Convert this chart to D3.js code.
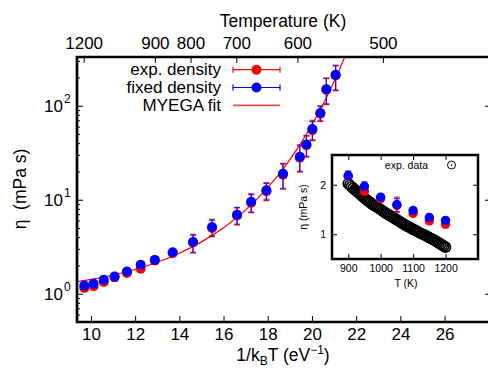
<!DOCTYPE html>
<html><head><meta charset="utf-8">
<script src="https://cdn.jsdelivr.net/npm/d3@7"></script>
<style>
body{margin:0;background:#fff}
svg{display:block}
text{font-family:"Liberation Sans",Arial,Helvetica,sans-serif;fill:#000}
</style></head>
<body><svg id="c" width="488" height="371"></svg>
<script>
// ---------- main data (x = 1/kBT in eV^-1, eta in mPa s) ----------
const invKT      = [9.70,10.12,10.58,11.07,11.63,12.25,12.89,13.70,14.62,15.48,16.61,17.25,17.94,18.69,19.45,19.75,20.02,20.38,20.65,21.07];
const etaFixed   = [1.22,1.28,1.41,1.52,1.72,2.03,2.29,2.76,3.55,5.13,6.9,9.5,12.6,18.9,28.7,38.7,56.6,83.7,150,213];
const fixedLo    = [1.17,1.23,1.35,1.38,1.65,1.92,2.18,2.62,2.76,4.15,5.5,7.4,10.1,13.2,20.2,29,43.6,70,105,147];
const fixedHi    = [1.27,1.33,1.47,1.68,1.79,2.14,2.40,2.92,4.28,6.2,8.3,11.6,15.2,24.4,38.5,48.3,70,100,197,270];
const etaExp     = [1.15,1.20,1.33,1.50,1.66,1.84,2.25,2.70,3.5,5.0,6.8,9.3,12.3,18.5,28,38,55,82,148,210];
const expLo      = [1.10,1.15,1.27,1.36,1.59,1.74,2.14,2.57,2.72,4.05,5.4,7.3,9.8,13.0,19.7,28.5,42.5,68,103,145];
const expHi      = [1.20,1.25,1.39,1.64,1.73,1.94,2.36,2.85,4.2,6.05,8.2,11.3,14.9,24.0,37.5,47.5,68,98,195,266];
const fitX       = [9.37,10,11,12,13,14,15,16,17,17.5,18,18.5,19,19.5,20,20.5,20.75,21,21.25,21.5];
const fitEta     = [1.34,1.42,1.58,1.81,2.16,2.69,3.56,5.04,7.80,10.1,13.5,18.6,26.7,40.0,62.7,103.5,136,181,245,338];
const xTicks     = [10,12,14,16,18,20,22,24,26];
const tempTicks  = [1200,900,800,700,600,500];
const yMajor     = [1,10,100];
const yExp       = ["0","1","2"];
const yMinor     = [0.5,0.6,0.7,0.8,0.9,2,3,4,5,6,7,8,9,20,30,40,50,60,70,80,90,200,300];
const legendLabels = ["exp. density","fixed density","MYEGA fit"];

// ---------- inset data ----------
const insetT      = [900,950,1000,1050,1100,1150,1200];
const insetFixed  = [2.18,1.97,1.75,1.60,1.48,1.34,1.28];
const insetFixLo  = [2.12,1.89,1.72,1.45,1.45,1.31,1.25];
const insetFixHi  = [2.28,2.06,1.79,1.75,1.51,1.37,1.31];
const insetExp    = [2.17,1.87,1.72,1.58,1.42,1.27,1.20];
const insetExpLo  = [2.11,1.80,1.69,1.45,1.39,1.24,1.17];
const insetExpHi  = [2.26,1.95,1.76,1.72,1.45,1.30,1.23];
const expDataT    = [900,905,910,915,920,925,930,935,940,945,950,955,960,965,970,975,980,985,990,995,
                     1000,1005,1010,1015,1020,1025,1030,1035,1040,1045,1050,1055,1060,1065,1070,1075,1080,1085,1090,1095,
                     1100,1105,1110,1115,1120,1125,1130,1135,1140,1145,1150,1155,1160,1165,1170,1175,1180,1185,1190,1195,1200];
const expDataEta  = [2.02,1.99,1.96,1.93,1.90,1.875,1.85,1.82,1.79,1.76,1.73,1.705,1.68,1.655,1.63,1.605,1.58,1.56,1.54,1.52,
                     1.50,1.475,1.45,1.43,1.41,1.39,1.37,1.35,1.33,1.31,1.29,1.27,1.25,1.23,1.21,1.19,1.17,1.155,1.14,1.12,
                     1.10,1.085,1.07,1.05,1.03,1.015,1.00,0.985,0.97,0.95,0.93,0.915,0.90,0.88,0.86,0.84,0.82,0.80,0.78,0.76,0.74];
const insetXTicks = [900,1000,1100,1200];
const insetYTicks = [1,2];

const kB = 8.617333e-5;
const RED = "#ff0000", BLUE = "#0000ff";
const FONT = "Liberation Sans, Arial, sans-serif";

const svg = d3.select("#c");
const L = 77, R = 491, T = 57, B = 322;

const x = d3.scaleLinear().domain([9.37, 28.1]).range([L, R]);
const y = d3.scaleLog().domain([0.5, 330]).range([B, T]);

svg.append("defs").append("clipPath").attr("id","clipMain")
  .append("rect").attr("x",L).attr("y",T).attr("width",R-L).attr("height",B-T);

function styleAxis(g){ g.select(".domain").remove(); g.selectAll(".tick line").attr("stroke","#000").attr("stroke-width",1); }

svg.append("g").attr("transform",`translate(0,${B})`)
  .call(d3.axisBottom(x).tickValues(xTicks).tickSize(-6).tickSizeOuter(0).tickPadding(6))
  .call(styleAxis)
  .call(g=>g.selectAll("text").attr("font-size",17).attr("font-family",FONT));

svg.append("g").attr("transform",`translate(0,${T})`)
  .call(d3.axisTop(x).tickValues(tempTicks.map(t=>1/(kB*t))).tickFormat((d,i)=>tempTicks[i]).tickSize(-6).tickSizeOuter(0).tickPadding(8))
  .call(styleAxis)
  .call(g=>g.selectAll("text").attr("font-size",17).attr("font-family",FONT));

svg.append("g").attr("transform",`translate(${L},0)`)
  .call(d3.axisLeft(y).tickValues(yMajor).tickSize(-6).tickSizeOuter(0).tickFormat(""))
  .call(styleAxis);
svg.append("g").attr("transform",`translate(${L},0)`)
  .call(d3.axisLeft(y).tickValues(yMinor).tickSize(-3).tickSizeOuter(0).tickFormat(""))
  .call(styleAxis);
svg.append("g").attr("transform",`translate(${R},0)`)
  .call(d3.axisRight(y).tickValues(yMajor).tickSize(-6).tickSizeOuter(0).tickFormat(""))
  .call(styleAxis);
svg.append("g").attr("transform",`translate(${R},0)`)
  .call(d3.axisRight(y).tickValues(yMinor).tickSize(-3).tickSizeOuter(0).tickFormat(""))
  .call(styleAxis);

// y labels with superscripts
yMajor.forEach((v,i)=>{
  svg.append("text").attr("x",63).attr("y",y(v)+6).attr("text-anchor","end").attr("font-size",17).text("10");
  svg.append("text").attr("x",64).attr("y",y(v)-3).attr("font-size",12).text(yExp[i]);
});

// axis titles
svg.append("text").attr("x",283).attr("y",27).attr("text-anchor","middle").attr("font-size",17.5).text("Temperature (K)");
const xl = svg.append("text").attr("x",283).attr("y",361).attr("text-anchor","middle").attr("font-size",17.5);
xl.append("tspan").text("1/k");
xl.append("tspan").attr("font-size",12).attr("dy",4).text("B");
xl.append("tspan").attr("dy",-4).text("T (eV");
xl.append("tspan").attr("font-size",12).attr("dy",-7).text("−1");
xl.append("tspan").attr("dy",7).text(")");
svg.append("text").attr("transform","translate(26,189) rotate(-90)").attr("text-anchor","middle").attr("font-size",17.5)
  .attr("xml:space","preserve").text("η  (mPa s)");

// plot content
const plot = svg.append("g").attr("clip-path","url(#clipMain)");
const fitLine = d3.line().x((d,i)=>x(fitX[i])).y((d,i)=>y(fitEta[i])).curve(d3.curveMonotoneX);
plot.append("path").datum(fitX).attr("d",fitLine).attr("fill","none").attr("stroke",RED).attr("stroke-width",1.2);

function errBars(g, xs, lo, hi, color, op, xsc, ysc, cap){
  const gg = g.append("g").attr("stroke",color).attr("stroke-width",1.3).attr("stroke-opacity",op);
  xs.forEach((xv,i)=>{
    const px = xsc(xv);
    gg.append("line").attr("x1",px).attr("x2",px).attr("y1",ysc(lo[i])).attr("y2",ysc(hi[i]));
    gg.append("line").attr("x1",px-cap).attr("x2",px+cap).attr("y1",ysc(lo[i])).attr("y2",ysc(lo[i]));
    gg.append("line").attr("x1",px-cap).attr("x2",px+cap).attr("y1",ysc(hi[i])).attr("y2",ysc(hi[i]));
  });
}
errBars(plot, invKT, expLo, expHi, RED, 1, x, y, 3);
plot.append("g").selectAll("circle").data(etaExp).join("circle")
  .attr("cx",(d,i)=>x(invKT[i])).attr("cy",d=>y(d)).attr("r",5).attr("fill",RED);
errBars(plot, invKT, fixedLo, fixedHi, BLUE, 0.6, x, y, 3);
plot.append("g").selectAll("circle").data(etaFixed).join("circle")
  .attr("cx",(d,i)=>x(invKT[i])).attr("cy",d=>y(d)).attr("r",5).attr("fill",BLUE);

// legend
const legY = [69.7, 87.5, 105.3];
legendLabels.forEach((lab,i)=>{
  svg.append("text").attr("x",221).attr("y",legY[i]+5.5).attr("text-anchor","end").attr("font-size",17).text(lab);
});
[[RED,0],[BLUE,1]].forEach(([c,i])=>{
  const g = svg.append("g").attr("stroke",c).attr("stroke-width",1.2);
  g.append("line").attr("x1",233).attr("x2",280).attr("y1",legY[i]).attr("y2",legY[i]);
  g.append("line").attr("x1",233).attr("x2",233).attr("y1",legY[i]-3).attr("y2",legY[i]+3);
  g.append("line").attr("x1",280).attr("x2",280).attr("y1",legY[i]-3).attr("y2",legY[i]+3);
  svg.append("circle").attr("cx",256.5).attr("cy",legY[i]).attr("r",5).attr("fill",c);
});
svg.append("line").attr("x1",233).attr("x2",280).attr("y1",legY[2]).attr("y2",legY[2]).attr("stroke","#ff4a4a").attr("stroke-width",1.8);

// main border
svg.append("path").attr("d",`M${R},${T}H${L}V${B}H${R}`).attr("fill","none").attr("stroke","#000").attr("stroke-width",2.7);

// ---------- inset ----------
const iL = 332, iR = 478, iT = 155, iB = 259;
const ix = d3.scaleLinear().domain([850,1300]).range([iL,iR]);
const iy = d3.scaleLinear().domain([0.5,2.6]).range([iB,iT]);
svg.append("rect").attr("x",iL).attr("y",iT).attr("width",iR-iL).attr("height",iB-iT).attr("fill","#fff");

const ins = svg.append("g");
const fs = 10.5;
ins.append("g").attr("transform",`translate(0,${iB})`)
  .call(d3.axisBottom(ix).tickValues(insetXTicks).tickFormat(d3.format("d")).tickSize(-5).tickSizeOuter(0).tickPadding(6))
  .call(styleAxis).call(g=>g.selectAll("text").attr("font-size",fs).attr("font-family",FONT));
ins.append("g").attr("transform",`translate(0,${iT})`)
  .call(d3.axisTop(ix).tickValues(insetXTicks).tickSize(-5).tickSizeOuter(0).tickFormat(""))
  .call(styleAxis);
ins.append("g").attr("transform",`translate(${iL},0)`)
  .call(d3.axisLeft(iy).tickValues(insetYTicks).tickFormat(d3.format("d")).tickSize(-5).tickSizeOuter(0).tickPadding(6))
  .call(styleAxis).call(g=>g.selectAll("text").attr("font-size",fs).attr("font-family",FONT));
ins.append("g").attr("transform",`translate(${iR},0)`)
  .call(d3.axisRight(iy).tickValues(insetYTicks).tickSize(-5).tickSizeOuter(0).tickFormat(""))
  .call(styleAxis);

ins.append("text").attr("x",406).attr("y",287).attr("text-anchor","middle").attr("font-size",fs).text("T (K)");
ins.append("text").attr("transform","translate(307,207) rotate(-90)").attr("text-anchor","middle").attr("font-size",fs).text("η (mPa s)");

// exp. data circles
ins.append("g").selectAll("circle").data(expDataEta).join("circle")
  .attr("cx",(d,i)=>ix(expDataT[i])).attr("cy",d=>iy(d)).attr("r",5)
  .attr("fill","none").attr("stroke","#000").attr("stroke-width",1.6);

errBars(ins, insetT, insetExpLo, insetExpHi, RED, 1, ix, iy, 3);
ins.append("g").selectAll("circle").data(insetExp).join("circle")
  .attr("cx",(d,i)=>ix(insetT[i])).attr("cy",d=>iy(d)).attr("r",4.7).attr("fill",RED);
errBars(ins, insetT, insetFixLo, insetFixHi, BLUE, 0.6, ix, iy, 3);
ins.append("g").selectAll("circle").data(insetFixed).join("circle")
  .attr("cx",(d,i)=>ix(insetT[i])).attr("cy",d=>iy(d)).attr("r",4.7).attr("fill",BLUE);

// inset legend
ins.append("text").attr("x",428).attr("y",168.5).attr("text-anchor","end").attr("font-size",fs).text("exp. data");
ins.append("circle").attr("cx",451.5).attr("cy",165).attr("r",4).attr("fill","none").attr("stroke","#000").attr("stroke-width",1);
ins.append("circle").attr("cx",451.5).attr("cy",165).attr("r",0.8).attr("fill","#000");

ins.append("rect").attr("x",iL).attr("y",iT).attr("width",iR-iL).attr("height",iB-iT)
  .attr("fill","none").attr("stroke","#000").attr("stroke-width",2.5);
</script></body></html>
